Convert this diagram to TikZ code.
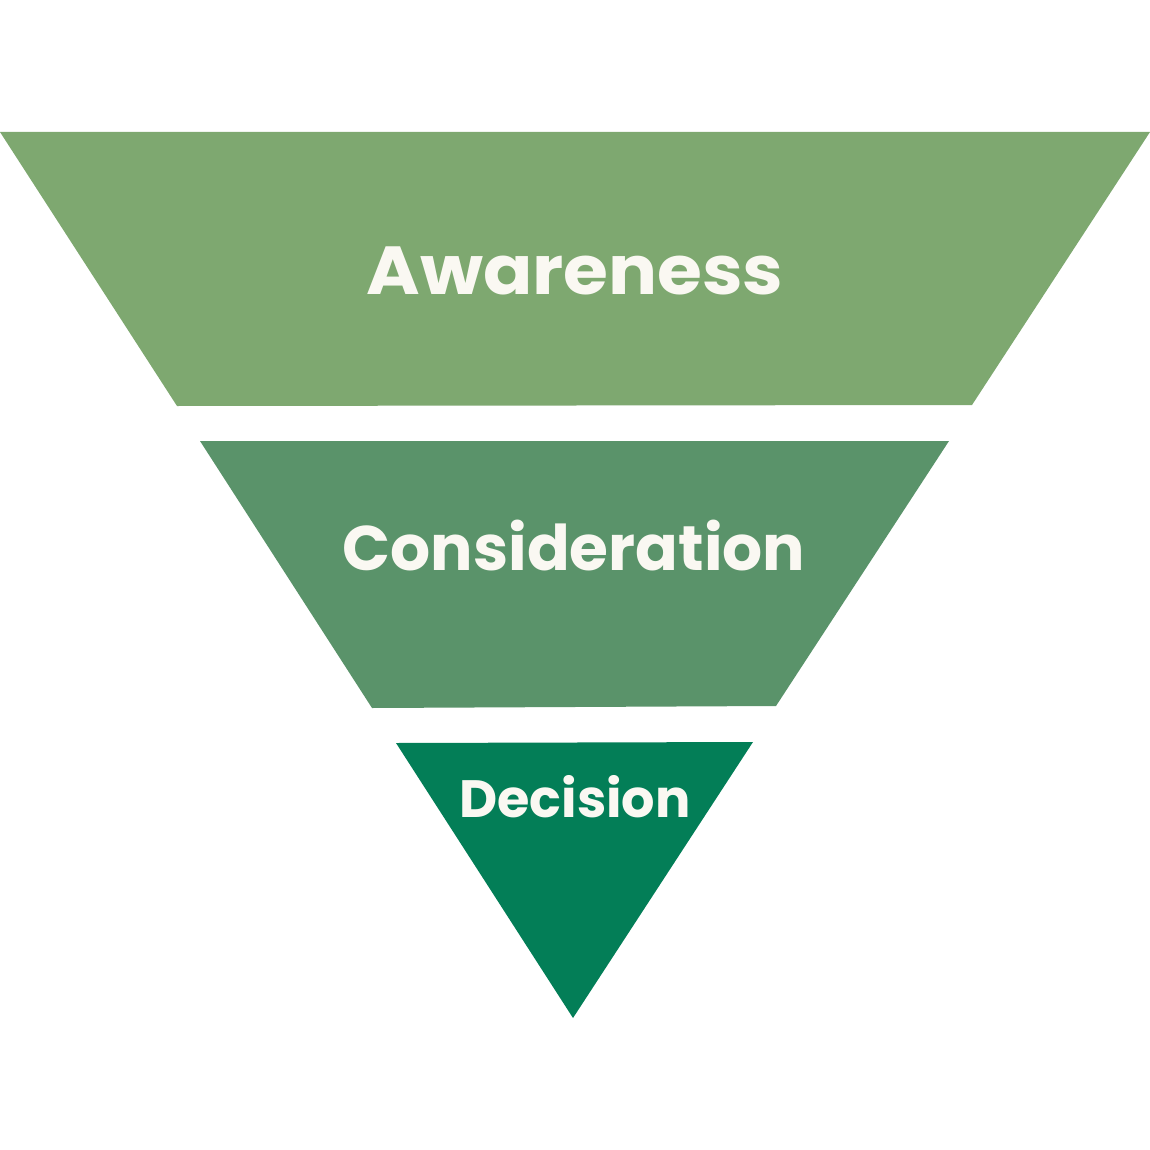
\documentclass[tikz,border=0pt]{standalone}
\usepackage{fontspec}
\setmainfont{Poppins}
\definecolor{cA}{HTML}{7EA870}
\definecolor{cB}{HTML}{5A936A}
\definecolor{cC}{HTML}{037E57}
\definecolor{tx}{HTML}{FAF8F2}
\tikzset{lbl/.style={text=tx,font=\bfseries,anchor=center,inner sep=0pt}}
\begin{document}
\begin{tikzpicture}[x=1pt,y=-1pt]
\useasboundingbox (0,0) rectangle (1150,1150);
\fill[cA] (0,132) -- (1150,132) -- (972,405) -- (177,406) -- cycle;
\fill[cB] (200,441) -- (949,441) -- (776,706) -- (372,708) -- cycle;
\fill[cC] (396,743) -- (753,742) -- (573,1018) -- cycle;
\node[lbl,font=\fontsize{68}{70}\selectfont\bfseries,xscale=1.07] (aw) at (575,271) {Awareness};
\node[lbl,font=\fontsize{63}{65}\selectfont\bfseries] (co) at (574,546) {Consideration};
\node[lbl,font=\fontsize{52.5}{55}\selectfont\bfseries] (de) at (575,797) {Decision};
\end{tikzpicture}
\end{document}
